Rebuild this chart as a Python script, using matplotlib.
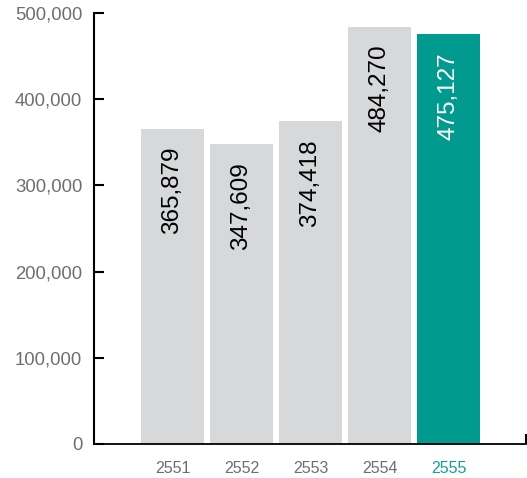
import matplotlib
matplotlib.use("Agg")
import matplotlib.pyplot as plt
from matplotlib.ticker import FuncFormatter

years = ["2551", "2552", "2553", "2554", "2555"]
values = [365879, 347609, 374418, 484270, 475127]
bar_colors = ["#d7d8da", "#d7d8da", "#d7d8da", "#d7d8da", "#009a8e"]
label_colors = ["black", "black", "black", "black", "white"]
tick_label_colors = ["#6d6e71", "#6d6e71", "#6d6e71", "#6d6e71", "#1a9e94"]
yticks = [0, 100000, 200000, 300000, 400000, 500000]

plt.rcParams['font.family'] = ['Liberation Sans', 'DejaVu Sans']

fig = plt.figure(figsize=(5.27, 4.78), dpi=100)
ax = fig.add_axes([94/527, 34/478, (526-94)/527, (465-34)/478])

x = list(range(len(years)))
ax.bar(x, values, width=0.913, color=bar_colors, zorder=2)

for xi, v, c in zip(x, values, label_colors):
    ax.annotate(f"{v:,}", xy=(xi, v), xytext=(0, -13), textcoords="offset points",
                rotation=90, ha="center", va="top", fontsize=17.5, color=c, zorder=3)

ax.set_xlim(-1.1377, 5.123)
ax.set_ylim(0, 500000)
ax.set_yticks(yticks)
ax.yaxis.set_major_formatter(FuncFormatter(lambda v, p: f"{int(v):,}"))
ax.set_xticks(x)
ax.set_xticklabels(years)
for lbl, c in zip(ax.get_xticklabels(), tick_label_colors):
    lbl.set_color(c)

ax.tick_params(axis="y", direction="in", length=7.5, width=1.5, pad=8.5,
               labelsize=13.3, labelcolor="#6d6e71", color="black")
ax.tick_params(axis="x", length=0, pad=12.5, labelsize=11.5)

for s in ["top", "right"]:
    ax.spines[s].set_visible(False)
ax.spines["left"].set_linewidth(1.5)
ax.spines["bottom"].set_linewidth(1.3)
ax.spines["left"].set_zorder(4)
ax.spines["bottom"].set_zorder(4)

# small end mark at the right end of the baseline
ax.plot([1, 1], [0, 0.023], transform=ax.transAxes, color="black", lw=1.5,
        clip_on=False, solid_capstyle="butt")

fig.savefig("out.png", dpi=100)
